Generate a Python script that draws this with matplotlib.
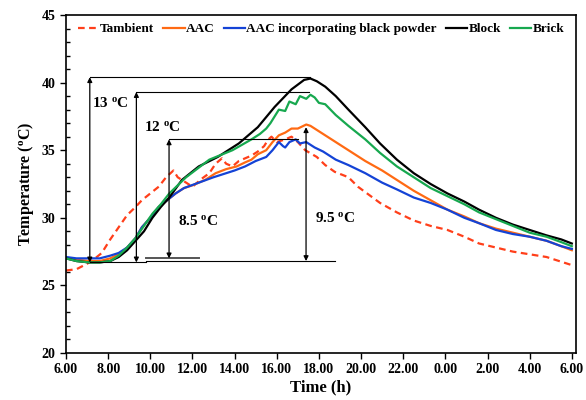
import numpy as np
import matplotlib
matplotlib.use("Agg")
import matplotlib.pyplot as plt
from matplotlib.ticker import MultipleLocator

plt.rcParams['font.family'] = ['Liberation Serif', 'DejaVu Serif']
plt.rcParams['font.weight'] = 'bold'
plt.rcParams['mathtext.fontset'] = 'custom'
plt.rcParams['mathtext.rm'] = 'Liberation Serif:bold'
plt.rcParams['mathtext.it'] = 'Liberation Serif:bold'
plt.rcParams['mathtext.bf'] = 'Liberation Serif:bold'
plt.rcParams['mathtext.default'] = 'rm'

# time in hours (6 -> 30 means 6:00 today -> 6:00 next day)
t_amb = [6.0, 6.5, 7.0, 7.3, 7.7, 8.1, 8.5, 8.9, 9.3, 9.6, 10.0, 10.4, 10.75, 11.1, 11.3, 11.7,
         12.0, 12.45, 12.8, 13.1, 13.4, 13.6, 13.9, 14.2, 14.5, 14.8, 15.1, 15.4, 15.6, 15.75,
         16.0, 16.4, 16.7, 17.0, 17.35, 17.9, 18.3, 18.75, 19.4, 19.85, 20.2, 20.9, 21.7, 22.5,
         23.3, 24.1, 24.9, 25.6, 26.4, 27.2, 28.0, 28.8, 29.4, 30.0]
T_amb = [26.1, 26.2, 26.6, 26.9, 27.4, 28.4, 29.3, 30.2, 30.8, 31.3, 31.8, 32.3, 33.0, 33.5, 33.0, 32.6,
         32.3, 32.9, 33.3, 34.0, 34.4, 34.0, 33.8, 34.2, 34.4, 34.6, 34.9, 35.3, 35.8, 36.0,
         35.6, 35.8, 36.0, 35.6, 35.0, 34.5, 33.9, 33.4, 33.0, 32.3, 31.9, 31.1, 30.4, 29.8,
         29.4, 29.1, 28.6, 28.1, 27.8, 27.5, 27.3, 27.1, 26.8, 26.5]

t_aac = [6.0, 6.5, 7.1, 7.6, 8.1, 8.5, 8.9, 9.3, 9.6, 10.0, 10.4, 10.8, 11.2, 11.6, 12.0, 12.6, 13.1,
         13.6, 14.1, 14.5, 14.8, 15.1, 15.5, 15.8, 16.1, 16.4, 16.7, 17.0, 17.4, 17.6, 17.9, 18.6,
         19.4, 20.2, 21.0, 21.7, 22.5, 23.3, 24.1, 24.9, 25.6, 26.4, 27.2, 28.0, 28.8, 29.5, 30.0]
T_aac = [27.0, 26.9, 26.8, 26.8, 27.0, 27.3, 27.8, 28.5, 29.3, 30.0, 30.8, 31.3, 31.8, 32.2, 32.4, 32.8, 33.3,
         33.6, 33.8, 34.1, 34.3, 34.7, 35.0, 35.6, 36.1, 36.3, 36.6, 36.6, 36.9, 36.8, 36.5, 35.8,
         35.0, 34.2, 33.5, 32.8, 32.0, 31.3, 30.6, 30.1, 29.6, 29.2, 28.9, 28.6, 28.3, 27.9, 27.6]

t_blk_pow = [6.0, 6.5, 7.1, 7.6, 8.1, 8.5, 8.9, 9.3, 9.6, 10.0, 10.4, 10.8, 11.2, 11.6, 12.3, 13.0, 13.6,
             14.0, 14.5, 15.0, 15.5, 15.8, 16.1, 16.3, 16.4, 16.6, 16.9, 17.1, 17.4, 17.8, 18.2, 18.8,
             19.4, 20.2, 21.0, 21.7, 22.5, 23.3, 24.1, 24.9, 25.6, 26.4, 27.2, 28.0, 28.8, 29.5, 30.0]
T_blk_pow = [27.1, 27.0, 27.0, 27.0, 27.2, 27.4, 27.8, 28.5, 29.3, 30.0, 30.8, 31.3, 31.8, 32.2, 32.6, 33.0, 33.3,
             33.5, 33.8, 34.2, 34.5, 35.0, 35.6, 35.3, 35.2, 35.6, 35.8, 35.5, 35.6, 35.2, 34.9, 34.3,
             33.9, 33.3, 32.6, 32.1, 31.5, 31.1, 30.6, 30.0, 29.6, 29.1, 28.8, 28.6, 28.3, 27.9, 27.7]

t_block = [6.0, 6.5, 7.1, 7.6, 8.1, 8.5, 8.9, 9.3, 9.7, 10.1, 10.5, 10.9, 11.5, 12.3, 13.2, 14.2, 15.1,
           15.9, 16.7, 17.3, 17.6, 17.9, 18.3, 18.8, 19.4, 20.2, 20.9, 21.7, 22.5, 23.3, 24.1, 24.9,
           25.6, 26.4, 27.2, 28.0, 28.8, 29.5, 30.0]
T_block = [27.0, 26.8, 26.7, 26.7, 26.8, 27.1, 27.6, 28.3, 29.0, 30.0, 30.8, 31.5, 32.8, 33.8, 34.5, 35.5, 36.7,
           38.2, 39.5, 40.2, 40.3, 40.1, 39.7, 39.0, 38.0, 36.7, 35.5, 34.3, 33.3, 32.5, 31.8, 31.2,
           30.6, 30.0, 29.5, 29.1, 28.7, 28.4, 28.1]

t_brick = [6.0, 6.5, 7.1, 7.6, 8.1, 8.5, 8.9, 9.3, 9.7, 10.1, 10.5, 10.9, 11.7, 12.8, 13.9, 14.8, 15.2,
           15.5, 15.7, 15.9, 16.1, 16.4, 16.6, 16.9, 17.1, 17.4, 17.6, 17.8, 18.0, 18.3, 18.8, 19.4,
           20.2, 20.9, 21.7, 22.5, 23.3, 24.1, 24.9, 25.6, 26.4, 27.2, 28.0, 28.8, 29.5, 30.0]
T_brick = [27.0, 26.8, 26.7, 26.7, 26.8, 27.2, 27.8, 28.5, 29.4, 30.3, 31.0, 31.8, 33.0, 34.3, 35.0, 35.8, 36.2,
           36.6, 37.0, 37.5, 38.0, 37.9, 38.6, 38.4, 39.0, 38.8, 39.1, 38.9, 38.5, 38.4, 37.6, 36.8,
           35.8, 34.8, 33.8, 33.0, 32.2, 31.6, 31.0, 30.4, 29.9, 29.4, 28.9, 28.6, 28.2, 27.9]

xtick_pos = [6, 8, 10, 12, 14, 16, 18, 20, 22, 24, 26, 28, 30]
xtick_lab = ['6.00', '8.00', '10.00', '12.00', '14.00', '16.00', '18.00', '20.00',
             '22.00', '0.00', '2.00', '4.00', '6.00']

# temperature-difference annotations: (x of arrow, top, bottom, label, label x, label y)
ann = [(7.13, 40.4, 26.7, '13', 7.25, 38.5),
       (9.34, 39.3, 26.7, '12', 9.7, 36.7),
       (10.89, 35.8, 27.0, '8.5', 11.3, 29.8),
       (17.39, 36.7, 26.8, '9.5', 17.8, 30.0)]

fig = plt.figure(figsize=(5.86, 4.0), dpi=100)
ax = fig.add_axes([0.1126, 0.1175, 0.8704, 0.845])

ax.plot(t_amb, T_amb, color='#FF3F1A', ls=(0, (3, 2)), lw=1.6, label='Tambient')
ax.plot(t_aac, T_aac, color='#FF6A13', lw=1.6, label='AAC')
ax.plot(t_blk_pow, T_blk_pow, color='#1443D6', lw=1.6, label='AAC incorporating black powder')
ax.plot(t_block, T_block, color='black', lw=1.6, label='Block')
ax.plot(t_brick, T_brick, color='#17A84F', lw=1.6, label='Brick')

# horizontal reference lines
ax.plot([7.13, 17.6], [40.4, 40.4], color='black', lw=0.8)
ax.plot([9.34, 17.55], [39.3, 39.3], color='black', lw=0.8)
ax.plot([10.89, 17.0], [35.8, 35.8], color='black', lw=0.8)
ax.plot([7.13, 9.8], [26.7, 26.7], color='black', lw=0.8)
ax.plot([9.8, 18.75], [26.8, 26.8], color='black', lw=0.8)
ax.plot([9.8, 12.3], [27.0, 27.0], color='#555555', lw=1.4)

for x, top, bot, lab, lx, ly in ann:
    ax.annotate('', xy=(x, top), xytext=(x, bot),
                arrowprops=dict(arrowstyle='<|-|>', color='black', lw=0.9,
                                mutation_scale=7, shrinkA=0, shrinkB=0))
    ax.text(lx, ly, lab + r' $^{o}$C', fontsize=11, fontweight='bold',
            ha='left', va='center')

ax.set_xlim(6, 30.2)
ax.set_ylim(20, 45)
ax.set_xticks(xtick_pos)
ax.set_xticklabels(xtick_lab)
ax.yaxis.set_major_locator(MultipleLocator(5))
ax.yaxis.set_minor_locator(MultipleLocator(1))
ax.tick_params(axis='both', which='major', labelsize=10, direction='out', length=4, width=1)
ax.tick_params(axis='y', which='minor', direction='in', length=3, width=1)
for s in ax.spines.values():
    s.set_linewidth(1.2)

ax.set_xlabel('Time (h)', fontsize=12, fontweight='bold', labelpad=2)
ax.set_ylabel(r'Temperature ($^{o}$C)', fontsize=11.5, fontweight='bold', labelpad=4)

ax.legend(loc='upper center', ncol=5, frameon=False,
          handlelength=1.6, handletextpad=0.1, columnspacing=0.7,
          borderaxespad=0.2, prop={'weight': 'bold', 'size': 9.5})

fig.savefig('out.png', dpi=100)
